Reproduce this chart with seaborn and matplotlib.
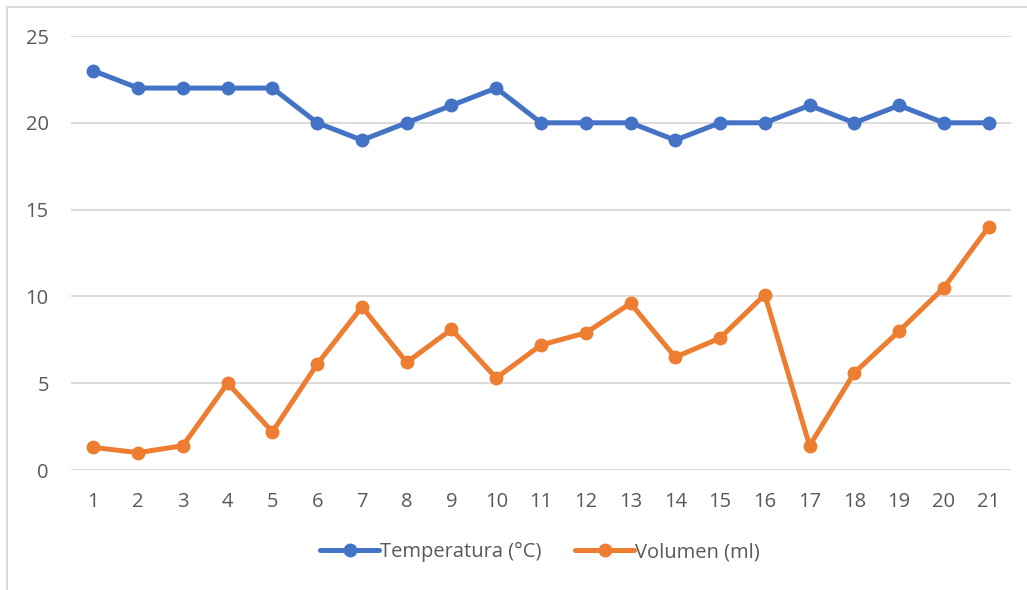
import numpy as np
import pandas as pd
import seaborn as sns
import matplotlib.pyplot as plt
from matplotlib.lines import Line2D

days = list(range(1, 22))
temperatura = [23, 22, 22, 22, 22, 20, 19, 20, 21, 22, 20, 20, 20, 19, 20, 20, 21, 20, 21, 20, 20]
volumen = [1.3, 1.0, 1.4, 5.0, 2.2, 6.1, 9.4, 6.2, 8.1, 5.3, 7.2, 7.9, 9.6, 6.5, 7.6, 10.1, 1.4, 5.6, 8.0, 10.5, 14.0]
series_names = ['Temperatura (°C)', 'Volumen (ml)']
y_ticks = [0, 5, 10, 15, 20, 25]

BLUE = '#4472C4'
ORANGE = '#ED7D31'
TEXT = '#595959'
GRID = '#D9D9D9'

df = pd.DataFrame({'day': days, series_names[0]: temperatura, series_names[1]: volumen})
long_df = df.melt(id_vars='day', var_name='serie', value_name='valor')

sns.set_style('white')
plt.rcParams['font.family'] = ['Open Sans', 'DejaVu Sans']

fig = plt.figure(figsize=(10.27, 5.90), dpi=100)
ax = fig.add_axes([71 / 1027, 1 - 470 / 590, (1011 - 71) / 1027, (470 - 36) / 590])

sns.lineplot(data=long_df, x='day', y='valor', hue='serie', palette=[BLUE, ORANGE],
             marker='o', markersize=10, markeredgewidth=0, linewidth=3.6,
             dashes=False, ax=ax)

ax.set_xlim(0.5, 21.5)
ax.set_ylim(0, 25)
ax.set_xticks(days)
ax.set_xticklabels([str(d) for d in days])
ax.set_yticks(y_ticks)
ax.yaxis.grid(True, color=GRID, linewidth=1.3)
ax.set_axisbelow(True)
ax.set_xlabel('')
ax.set_ylabel('')
for s in ax.spines.values():
    s.set_visible(False)
ax.tick_params(axis='both', length=0, labelsize=14.5, colors=TEXT)
ax.tick_params(axis='x', pad=16)
ax.tick_params(axis='y', pad=16)

handles, labels = ax.get_legend_handles_labels()
leg = ax.legend(handles, labels, loc='center', ncol=2, frameon=False,
                bbox_to_anchor=(540 / 1027, 1 - 552 / 590), bbox_transform=fig.transFigure,
                fontsize=14.5, handlelength=2.9, columnspacing=1.7, handletextpad=0.05)
for t in leg.get_texts():
    t.set_color(TEXT)

# outer chart border (only left and top visible in the crop)
fig.add_artist(Line2D([7 / 1027, 7 / 1027], [0, 1 - 7 / 590], transform=fig.transFigure,
                      color=GRID, linewidth=1.5))
fig.add_artist(Line2D([7 / 1027, 1], [1 - 7 / 590, 1 - 7 / 590], transform=fig.transFigure,
                      color=GRID, linewidth=1.5))

fig.savefig('out.png', dpi=100)
